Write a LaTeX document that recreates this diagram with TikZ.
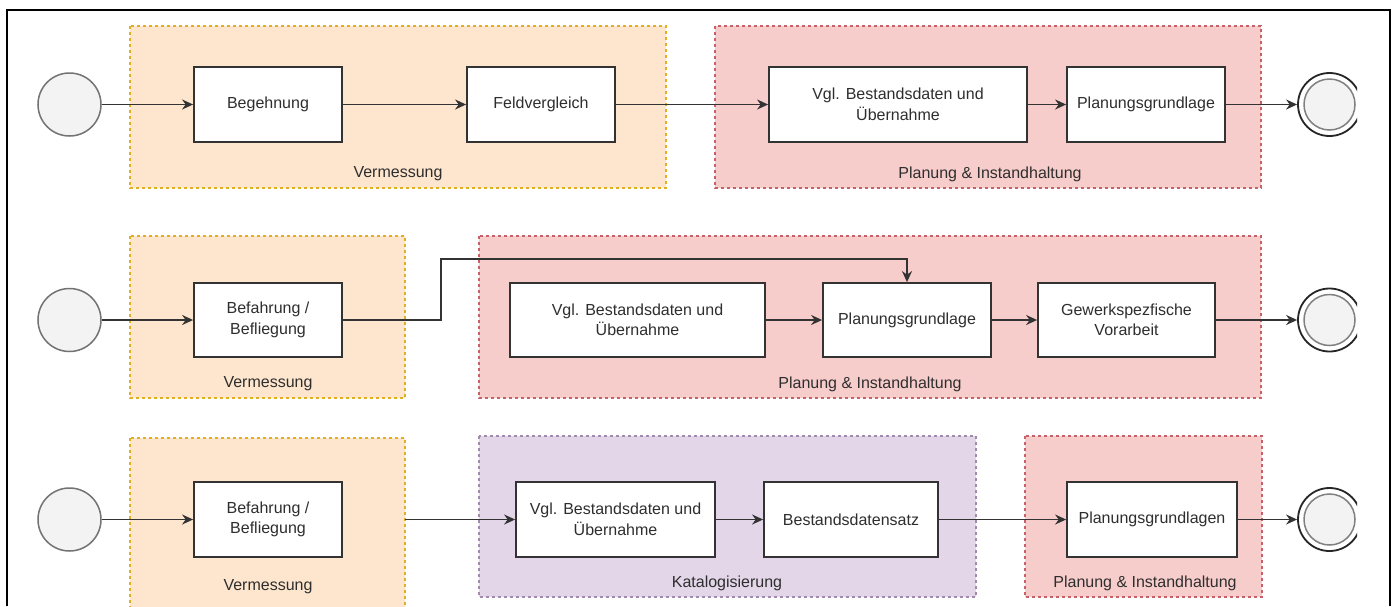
\documentclass[tikz,border=0pt]{standalone}
\usepackage{fontspec}
\setmainfont{Liberation Sans}
\usetikzlibrary{arrows.meta,positioning}
\definecolor{txt}{HTML}{2E2E2E}
\definecolor{orfill}{HTML}{FDE6CD}
\definecolor{ordraw}{HTML}{E0B020}
\definecolor{rdfill}{HTML}{F7CDCC}
\definecolor{rddraw}{HTML}{C8606A}
\definecolor{pufill}{HTML}{E2D6E8}
\definecolor{pudraw}{HTML}{A08AB0}
\definecolor{circfill}{HTML}{F3F3F3}
\tikzset{
  stepbox/.style={draw=black!80, fill=white, line width=1.8pt, text=txt, align=center,
    inner sep=0pt, font=\fontsize{16}{20.5}\selectfont},
  grp/.style={line width=1.4pt, dash pattern=on 3pt off 3pt},
  orgrp/.style={grp, draw=ordraw, fill=orfill},
  rdgrp/.style={grp, draw=rddraw, fill=rdfill},
  pugrp/.style={grp, draw=pudraw, fill=pufill},
  glabel/.style={text=txt, font=\fontsize{16}{20}\selectfont, inner sep=0pt},
  startev/.style={circle, draw=black!55, fill=circfill, line width=1.5pt, minimum size=63pt, inner sep=0pt},
  endev/.style={circle, draw=black!85, fill=white, line width=1.8pt, minimum size=63pt, inner sep=0pt},
  endin/.style={circle, draw=black!50, fill=circfill, line width=1.5pt, minimum size=51pt, inner sep=0pt},
  flow/.style={draw=black!80, line width=1.7pt, -{Stealth[length=11pt,width=10pt]}},
}
\begin{document}
\begin{tikzpicture}[x=1pt,y=-1pt]
\useasboundingbox (0,0) rectangle (1397,606);
\fill[white] (0,0) rectangle (1397,606);
% frame
\draw[black, line width=1.8pt] (7,606) -- (7,10) -- (1390,10) -- (1390,606);

% groups
\path[orgrp] (130,26) rectangle (666,188);
\path[rdgrp] (715,26) rectangle (1261,188);
\path[orgrp] (130,236) rectangle (405,398);
\path[rdgrp] (479,236) rectangle (1261,398);
\path[orgrp] (130,438) rectangle (405,612);
\path[pugrp] (479,436) rectangle (976,597);
\path[rdgrp] (1025,436) rectangle (1262,597);

% group labels
\node[glabel] (l1a) at (398,174) {Vermessung};
\node[glabel] (l1b) at (990,174) {Planung \& Instandhaltung};
\node[glabel] (l2a) at (268,384) {Vermessung};
\node[glabel] (l2b) at (870,384) {Planung \& Instandhaltung};
\node[glabel] (l3a) at (268,587) {Vermessung};
\node[glabel] (l3b) at (727,583) {Katalogisierung};
\node[glabel] (l3c) at (1145,583) {Planung \& Instandhaltung};

% start events
\node[startev] (s1) at (69.5,104.5) {};
\node[startev] (s2) at (69.5,320) {};
\node[startev] (s3) at (69.5,519.5) {};

% end events (clipped at right)
\begin{scope}
\clip (0,0) rectangle (1357,606);
\node[endev] (e1) at (1329.5,104.5) {};
\node[endin] (e1i) at (1329.5,104.5) {};
\node[endev] (e2) at (1329.5,320) {};
\node[endin] (e2i) at (1329.5,320) {};
\node[endev] (e3) at (1329.5,519.5) {};
\node[endin] (e3i) at (1329.5,519.5) {};
\end{scope}

% row 1
\node[stepbox, minimum width=148pt, minimum height=75pt] (b1) at (268,104.5) {Begehnung};
\node[stepbox, minimum width=148pt, minimum height=75pt] (f1) at (541,104.5) {Feldvergleich};
\node[stepbox, minimum width=258pt, minimum height=75pt] (v1) at (898,104.5) {Vgl. Bestandsdaten und\\Übernahme};
\node[stepbox, minimum width=158pt, minimum height=75pt] (p1) at (1146,104.5) {Planungsgrundlage};

% row 2
\node[stepbox, minimum width=148pt, minimum height=74pt] (b2) at (268,320) {Befahrung /\\Befliegung};
\node[stepbox, minimum width=255pt, minimum height=74pt] (v2) at (637.5,320) {Vgl. Bestandsdaten und\\Übernahme};
\node[stepbox, minimum width=168pt, minimum height=74pt] (p2) at (907,320) {Planungsgrundlage};
\node[stepbox, minimum width=177pt, minimum height=74pt] (g2) at (1126.5,320) {Gewerkspezfische\\Vorarbeit};

% row 3
\node[stepbox, minimum width=148pt, minimum height=75pt] (b3) at (268,519.5) {Befahrung /\\Befliegung};
\node[stepbox, minimum width=199pt, minimum height=75pt] (v3) at (615.5,519.5) {Vgl. Bestandsdaten und\\Übernahme};
\node[stepbox, minimum width=174pt, minimum height=75pt] (d3) at (851,519.5) {Bestandsdatensatz};
\node[stepbox, minimum width=170pt, minimum height=75pt] (p3) at (1152,519.5) {Planungsgrundlagen};

% connectors row 1
\draw[flow] (s1) -- (b1);
\draw[flow] (b1) -- (f1);
\draw[flow] (f1) -- (v1);
\draw[flow] (v1) -- (p1);
\draw[flow] (p1) -- (e1);

% connectors row 2
\coordinate (k1) at (441,320);
\coordinate (k2) at (441,259);
\draw[flow] (s2) -- (b2);
\draw[flow] (b2.east) -- (k1) -- (k2) -- (k2 -| p2.north) -- (p2.north);
\draw[flow] (v2) -- (p2);
\draw[flow] (p2) -- (g2);
\draw[flow] (g2) -- (e2);

% connectors row 3
\coordinate (k3) at (405,519.5);
\draw[flow] (s3) -- (b3);
\draw[flow] (k3) -- (v3);
\draw[flow] (v3) -- (d3);
\draw[flow] (d3) -- (p3);
\draw[flow] (p3) -- (e3);
\end{tikzpicture}
\end{document}
